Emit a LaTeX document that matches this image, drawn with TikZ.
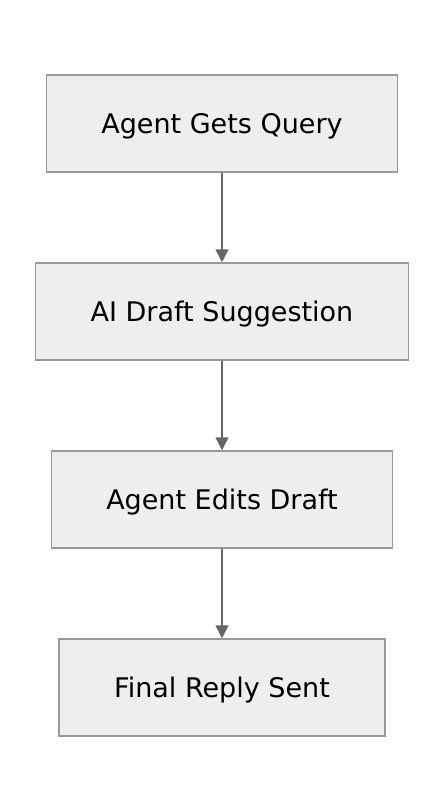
\documentclass[tikz,border=0pt]{standalone}
\usepackage{fontspec}
\setmainfont{DejaVu Sans}
\usetikzlibrary{positioning,arrows.meta}
\definecolor{boxfill}{HTML}{EEEEEE}
\definecolor{boxline}{HTML}{999999}
\definecolor{flowline}{HTML}{666666}
\tikzset{
  stage/.style={draw=boxline,fill=boxfill,line width=1.5pt,minimum height=97pt,
    inner xsep=55pt,text height=19.7pt,text depth=0pt,font=\fontsize{27}{32}\selectfont},
  flow/.style={-{Triangle[length=13pt,width=13pt]},draw=flowline,line width=1.5pt}
}
\begin{document}
\begin{tikzpicture}[x=1pt,y=-1pt,node distance=89.5pt]
\useasboundingbox (0,0) rectangle (446,812);
\node[stage] (query) at (222,123.5) {Agent Gets Query};
\node[stage,below=of query] (draft) {AI Draft Suggestion};
\node[stage,below=of draft] (edit) {Agent Edits Draft};
\node[stage,below=of edit] (reply) {Final Reply Sent};
\draw[flow] (query) -- (draft);
\draw[flow] (draft) -- (edit);
\draw[flow] (edit) -- (reply);
\end{tikzpicture}
\end{document}
